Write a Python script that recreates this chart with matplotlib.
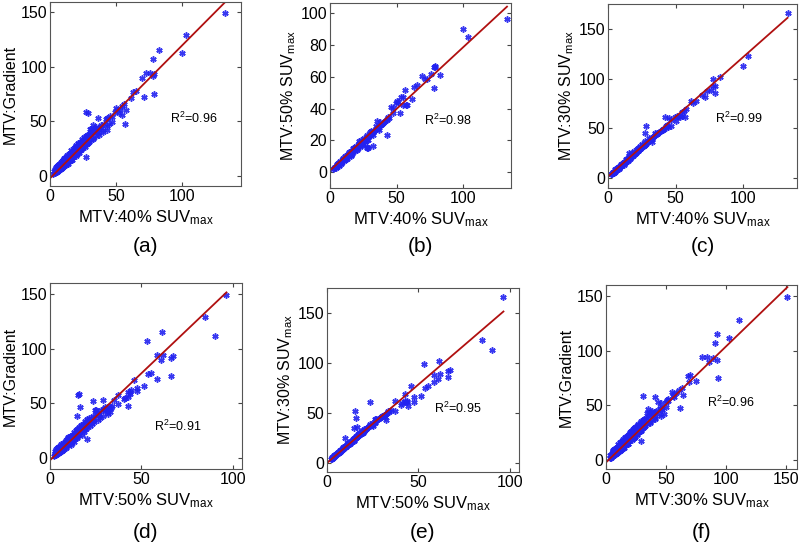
import numpy as np
import matplotlib
matplotlib.use("Agg")
import matplotlib.pyplot as plt

plt.rcParams['font.family'] = ['Liberation Sans', 'DejaVu Sans']
plt.rcParams['mathtext.fontset'] = 'custom'
plt.rcParams['mathtext.rm'] = 'Liberation Sans'
plt.rcParams['mathtext.it'] = 'Liberation Sans'

# MTV values per lesion (ml)
mtv40 = [2.5, 3, 3.5, 4, 4, 4.5, 5, 5, 5.5, 6, 6, 6.5, 7, 7, 7.5, 8, 8, 8.5, 9, 9,
         9.5, 10, 10, 10.5, 11, 11, 11.5, 12, 12, 12.5, 13, 13, 13.5, 14, 14, 14.5, 15, 15, 15.5, 16,
         16, 16.5, 17, 17.5, 18, 18, 18.5, 19, 19.5, 20, 20, 20.5, 21, 21.5, 22, 22, 22.5, 23, 23.5, 24,
         24, 24.5, 25, 25.5, 26, 26.5, 27, 27.5, 28, 29, 29.5, 30, 31, 32, 33, 34, 35, 36, 37, 38,
         40, 41, 43,
         3.5, 4.5, 5.5, 6.5, 7.5, 8.5, 9.5, 10.5, 11.5, 12.5, 13.5, 14.5, 15.5, 16.5, 17.5, 18.5, 19.5, 20.5, 21.5, 22.5,
         23.5, 24.5, 25.5, 26.5, 27.5, 28.5, 30.5, 32.5, 34.5, 36.5, 6, 8, 10, 12, 14, 16, 18, 20, 22, 24,
         133, 103.5, 100, 83, 78, 79, 73, 76, 79, 69.5, 78, 71.5, 63, 65.5, 61.5, 54.5, 56, 51, 53, 54.5,
         57, 47, 43.5, 44.5, 47, 27.5, 28.5, 36.5, 39, 30, 31.5, 35.5, 40.5, 43, 27.5, 42.5, 32.5, 28, 35, 37.5,
         52.5, 57.5, 45.5, 49.5, 50, 15.5]
mtv50 = [2.0, 2.5, 3.0, 3.0, 3.5, 3.5, 4.0, 4.0, 4.5, 4.5, 5.0, 5.0, 5.5, 5.5, 6.0, 6.0, 6.5, 6.5, 7.0, 7.0,
         7.5, 8.0, 7.5, 8.0, 8.5, 9.0, 9.0, 9.5, 9.0, 10.0, 10.0, 10.5, 10.5, 11.0, 11.5, 11.5, 11.5, 12.0, 12.0, 12.5,
         13.0, 13.0, 13.5, 13.5, 14.0, 14.5, 14.5, 15.0, 15.0, 15.5, 16.0, 16.0, 16.5, 17.0, 17.0, 17.5, 17.5, 18.0, 18.5, 19.0,
         18.5, 19.0, 19.5, 20.0, 20.5, 20.5, 21.0, 21.5, 22.0, 22.5, 23.0, 23.5, 24.0, 25.0, 26.0, 26.5, 27.5, 28.0, 29.0, 29.5,
         31.0, 32.0, 33.5,
         3.5, 2.5, 5.0, 4.0, 7.0, 5.5, 8.5, 7.0, 10.0, 8.5, 11.5, 10.0, 13.5, 11.5, 15.0, 13.0, 16.5, 14.5, 18.5, 16.0,
         20.0, 17.5, 21.5, 19.0, 23.5, 20.5, 26.0, 23.5, 29.0, 26.5, 5.5, 5.0, 9.0, 8.0, 12.5, 11.0, 15.5, 14.0, 19.5, 17.0,
         96.5, 85, 90, 61, 53, 66, 58.5, 62, 67, 60.5, 66, 58.5, 53.5, 55, 46, 47.5, 51.5, 44, 47.5, 42.5,
         42.5, 40.5, 35, 34, 37, 16, 15.5, 29, 30, 25, 24.5, 27, 31.5, 33, 20, 23.5, 16.5, 15, 32, 31.5,
         37, 42.5, 41, 43.5, 44.5, 10]
mtv30 = [4.0, 4.5, 5.0, 6.0, 5.5, 6.5, 7.0, 6.5, 7.5, 8.5, 8.0, 9.0, 9.0, 9.5, 10.0, 11.0, 10.5, 11.5, 12.0, 11.5,
         12.5, 13.0, 13.5, 14.0, 14.0, 14.5, 15.0, 15.5, 16.0, 16.0, 17.0, 16.5, 17.5, 18.0, 18.5, 18.5, 19.5, 19.0, 20.0, 20.5,
         21.0, 21.5, 21.5, 22.5, 23.0, 22.5, 23.5, 24.0, 24.5, 25.0, 25.5, 26.0, 26.5, 27.0, 27.5, 28.0, 28.5, 29.0, 29.5, 30.0,
         30.5, 31.0, 31.5, 32.0, 32.5, 33.5, 33.5, 34.5, 35.0, 36.0, 37.0, 37.5, 38.5, 40.0, 41.0, 42.0, 43.0, 44.5, 45.5, 46.5,
         48.5, 49.5, 52.0,
         6.5, 5.5, 9.0, 8.0, 11.5, 10.5, 14.0, 13.0, 16.5, 15.0, 19.5, 17.5, 22.0, 20.0, 24.5, 22.5, 27.0, 25.0, 29.5, 27.5,
         32.0, 30.0, 34.5, 32.0, 37.0, 34.5, 40.5, 39.5, 45.5, 44.0, 9.5, 9.0, 14.5, 13.5, 19.0, 19.0, 25.0, 24.0, 30.0, 29.0,
         166, 123, 113, 102, 99.5, 86, 88, 89, 93, 84, 92.5, 81.5, 75.5, 77, 77, 66, 67, 62, 61.5, 62,
         61, 58, 53, 51, 52, 45.5, 52, 45, 47, 37, 38.5, 44, 48, 50, 33, 61, 36, 35, 43, 46,
         62, 69, 60, 61, 57, 25]
gradient = [2.0, 4.5, 2.5, 6.5, 3.0, 8.0, 4.0, 9.0, 5.0, 10.0, 4.5, 7.0, 11.0, 5.5, 9.5, 12.5, 6.5, 10.0, 13.5, 7.5,
            12.0, 15.0, 8.5, 13.5, 9.5, 16.5, 12.0, 17.5, 10.5, 15.5, 12.0, 19.0, 14.0, 18.5, 11.5, 20.5, 14.0, 21.5, 16.0, 20.0,
            23.5, 15.0, 22.0, 17.5, 25.5, 19.0, 23.0, 27.0, 18.5, 25.0, 28.5, 21.5, 26.5, 30.0, 29.5, 21.0, 27.0, 31.5, 24.0, 32.0,
            27.0, 33.5, 26.5, 31.5, 35.5, 28.0, 33.0, 36.5, 29.5, 37.0, 31.0, 38.5, 33.0, 40.5, 35.0, 41.5, 37.0, 43.5, 38.0, 45.0,
            42.0, 47.5, 45.5,
            5.0, 3.5, 8.0, 6.0, 11.5, 8.0, 14.5, 10.0, 16.5, 12.0, 18.0, 14.5, 21.0, 17.0, 23.0, 19.0, 26.0, 20.5, 28.0, 23.5,
            30.5, 25.5, 33.0, 27.0, 35.0, 30.0, 39.0, 34.0, 44.0, 39.0, 8.5, 7.0, 13.0, 11.0, 17.5, 15.0, 24.0, 20.0, 29.0, 26.0,
            149, 128.5, 112, 115.5, 107, 75, 94.5, 94, 93, 90, 91.5, 72, 76.5, 77.5, 71, 64, 66, 60.5, 61, 56,
            48, 54, 53.5, 47.5, 49, 58.5, 58, 53.5, 46.5, 43.5, 43.5, 40, 40.5, 42, 17.5, 52, 47, 38, 45, 44,
            58, 60, 55, 59, 62, 19]
# panel (f) x values as plotted there
mtv30_f = [3.0, 3.5, 4.5, 5.0, 4.5, 5.5, 6.0, 5.5, 6.5, 7.0, 6.5, 7.5, 8.0, 8.5, 8.5, 9.5, 9.0, 10.0, 10.5, 10.0,
           11.0, 11.5, 11.5, 12.0, 12.5, 12.0, 13.0, 13.5, 13.0, 14.0, 14.5, 14.0, 15.0, 15.5, 15.0, 16.0, 16.5, 16.0, 17.5, 17.5,
           18.0, 18.5, 19.0, 19.5, 20.0, 19.5, 20.5, 21.0, 21.5, 22.0, 22.5, 23.0, 23.5, 24.0, 24.5, 24.0, 25.0, 25.5, 26.0, 26.5,
           26.5, 27.0, 28.0, 28.0, 29.0, 29.5, 30.0, 30.5, 31.0, 32.0, 32.5, 33.0, 34.0, 35.5, 36.5, 37.5, 38.5, 39.5, 41.0, 42.0,
           44.0, 45.0, 47.0,
           4.0, 5.5, 6.5, 7.5, 8.0, 9.5, 10.0, 12.0, 12.5, 14.0, 14.5, 16.5, 16.5, 18.5, 19.0, 21.0, 21.0, 23.0, 23.5, 25.5,
           25.5, 27.5, 28.0, 29.5, 30.0, 32.0, 33.0, 36.5, 37.5, 41.0, 6.0, 9.5, 10.5, 14.0, 15.0, 18.5, 19.0, 23.0, 23.5, 27.0,
           151, 111, 102, 92.5, 91, 93, 80, 84, 89, 86, 92, 75, 68, 70, 69, 61, 63, 57, 58, 52,
           62, 52, 50, 47, 50, 31, 41, 43, 45, 34, 36, 40, 46, 48.5, 29.5, 46, 35, 32, 38, 41,
           57, 64, 51, 56, 55, 19]

# regression fits (slope, intercept) and R^2 as printed
fit_slope = [1.21, 0.776, 1.2, 1.59, 1.57, 1.06]
fit_icpt = [-2.0, 1.0, 1.5, -2.0, 0.0, -2.0]
r2_text = ['0.96', '0.98', '0.99', '0.91', '0.95', '0.96']
panel_tags = ['(a)', '(b)', '(c)', '(d)', '(e)', '(f)']

sub = r'$_{\mathrm{max}}$'
panels = [
    (mtv40, gradient, 'MTV:40% SUV' + sub, 'MTV:Gradient'),
    (mtv40, mtv50, 'MTV:40% SUV' + sub, 'MTV:50% SUV' + sub),
    (mtv40, mtv30, 'MTV:40% SUV' + sub, 'MTV:30% SUV' + sub),
    (mtv50, gradient, 'MTV:50% SUV' + sub, 'MTV:Gradient'),
    (mtv50, mtv30, 'MTV:50% SUV' + sub, 'MTV:30% SUV' + sub),
    (mtv30_f, gradient, 'MTV:30% SUV' + sub, 'MTV:Gradient'),
]

# layout in pixels: left, right, top, bottom
W, H = 802, 545
boxes = [(50, 241, 2, 186), (330, 511, 3, 188), (608, 797, 4, 188),
         (50, 242, 283, 469), (327, 519, 288, 472), (606, 797, 285, 469)]
xlims = [(0, 145), (0, 136), (0, 140), (0, 105), (0, 105), (0, 159)]
ylims = [(-9, 159), (-10, 106.5), (-10, 175), (-10, 160), (-9, 175), (-8, 160)]
yticks = [[0, 50, 100, 150], [0, 20, 40, 60, 80, 100], [0, 50, 100, 150],
          [0, 50, 100, 150], [0, 50, 100, 150], [0, 50, 100, 150]]
xticks = [[0, 50, 100]] * 5 + [[0, 50, 100, 150]]
r2_pos = [(91, 53), (70.5, 32.5), (79, 60), (57, 29), (58.5, 55), (84, 52.5)]

fig = plt.figure(figsize=(W / 100, H / 100), dpi=100)

for i, (xs, ys, xl, yl) in enumerate(panels):
    l, r, t, b = boxes[i]
    ax = fig.add_axes([l / W, 1 - b / H, (r - l) / W, (b - t) / H])
    ax.plot(xs, ys, linestyle='none', marker=(6, 2, 0), markersize=4.5,
            markeredgewidth=1.1, color='#2222f0', alpha=0.9)
    xx = np.array([0, max(xs)])
    ax.plot(xx, fit_slope[i] * xx + fit_icpt[i], color='#b01010', lw=1.3)
    ax.set_xlim(*xlims[i])
    ax.set_ylim(*ylims[i])
    ax.set_xticks(xticks[i])
    ax.set_yticks(yticks[i])
    ax.tick_params(direction='in', top=True, right=True, length=3,
                   labelsize=11.5, pad=2, color='#444444')
    for s in ax.spines.values():
        s.set_color('#555555')
        s.set_linewidth(0.8)
    ax.set_xlabel(xl, fontsize=12, labelpad=3)
    ax.set_ylabel(yl, fontsize=11.5, labelpad=2)
    ax.text(r2_pos[i][0], r2_pos[i][1], r'R$^2$=' + r2_text[i], fontsize=9,
            ha='left', va='center')
    tag_y = 246 if i < 3 else 533
    fig.text((l + r) / 2 / W, 1 - tag_y / H, panel_tags[i], fontsize=15,
             ha='center', va='center')

fig.savefig('out.png', dpi=100)
